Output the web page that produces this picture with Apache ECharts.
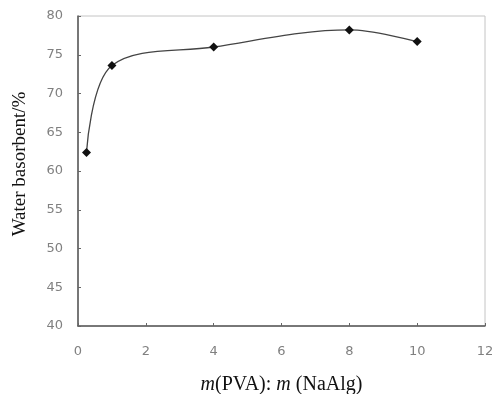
<!DOCTYPE html>
<html>
<head>
<meta charset="utf-8">
<script src="https://cdn.jsdelivr.net/npm/echarts@6/dist/echarts.min.js"></script>
<style>
  html, body { margin: 0; padding: 0; background: #fff; }
  #chart { width: 494px; height: 394px; }
</style>
</head>
<body>
<div id="chart"></div>
<script>
// 质量比 m(PVA):m(NaAlg) 与吸水率
const ratio = [0.25, 1, 4, 8, 10];
const waterAbsorb = [62.4, 73.6, 76.0, 78.2, 76.7];
const xTicks = [0, 2, 4, 6, 8, 10, 12];
const yTicks = [40, 45, 50, 55, 60, 65, 70, 75, 80];

const chart = echarts.init(document.getElementById('chart'));

const data = ratio.map((x, i) => [x, waterAbsorb[i]]);

const option = {
  animation: false,
  grid: {
    left: 78,
    right: 9,
    top: 16,
    bottom: 68,
    outerBoundsMode: 'none',
    show: true,
    borderColor: '#c4c4c4',
    borderWidth: 1,
  },
  xAxis: {
    type: 'value',
    min: xTicks[0],
    max: xTicks[xTicks.length - 1],
    interval: 2,
    name: '{i|m}(PVA): {i|m} (NaAlg)',
    nameLocation: 'middle',
    nameGap: 49,
    nameTextStyle: {
      fontFamily: 'Liberation Serif',
      fontSize: 20,
      color: '#111',
      rich: {
        i: { fontFamily: 'Liberation Serif', fontStyle: 'italic', fontSize: 20, color: '#111' },
      },
    },
    axisLine: { lineStyle: { color: '#555', width: 1.5 } },
    axisTick: { inside: true, length: 3, lineStyle: { color: '#666' } },
    axisLabel: { color: '#808080', fontSize: 13, margin: 19, fontFamily: 'DejaVu Sans' },
    splitLine: { show: false },
  },
  yAxis: {
    type: 'value',
    min: yTicks[0],
    max: yTicks[yTicks.length - 1],
    interval: 5,
    name: 'Water basorbent/%',
    nameLocation: 'middle',
    nameGap: 48,
    nameTextStyle: { fontFamily: 'Liberation Serif', fontSize: 19, color: '#111', padding: [0, 0, 0, 14] },
    axisLine: { lineStyle: { color: '#555', width: 1.5 } },
    axisTick: { inside: true, length: 3, lineStyle: { color: '#666' } },
    axisLabel: { color: '#808080', fontSize: 13, margin: 15, fontFamily: 'DejaVu Sans' },
    splitLine: { show: false },
  },
  series: [{
    type: 'line',
    data: data,
    smooth: 0.35,
    symbol: 'diamond',
    symbolSize: 9,
    itemStyle: { color: '#111' },
    lineStyle: { color: '#444', width: 1.3 },
  }],
};

chart.setOption(option);
</script>
</body>
</html>
